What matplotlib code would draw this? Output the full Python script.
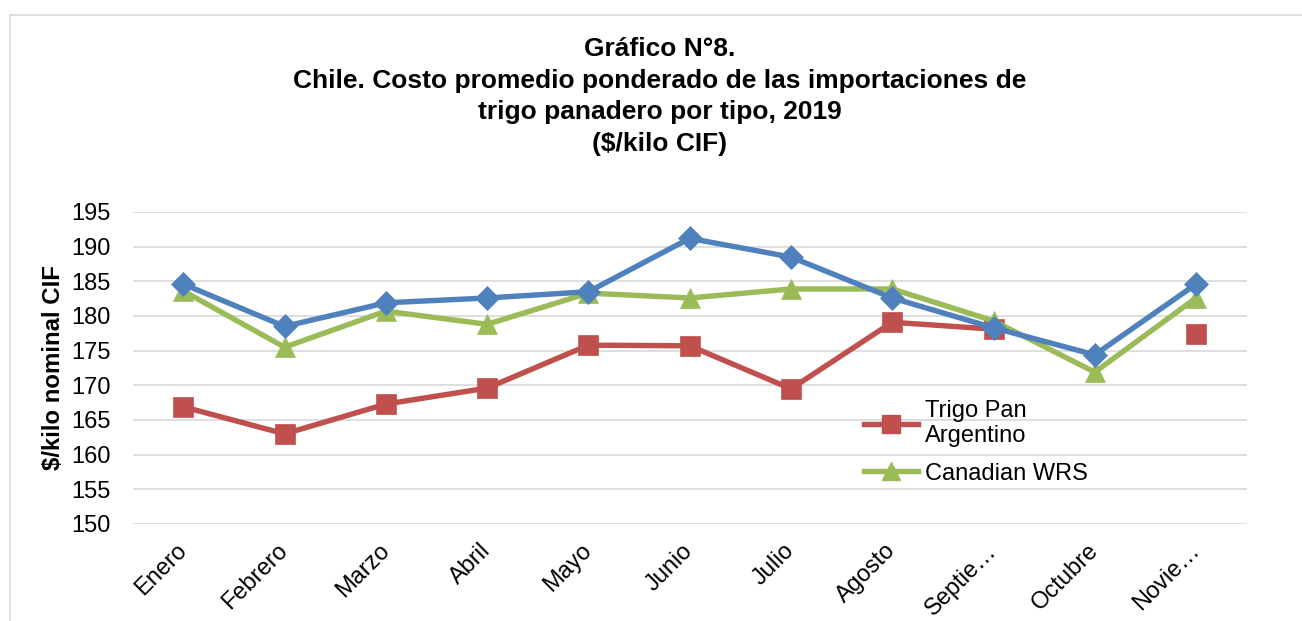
import numpy as np
import matplotlib.pyplot as plt
from matplotlib.lines import Line2D
from matplotlib.patches import Rectangle

plt.rcParams['font.family'] = ['Liberation Sans', 'DejaVu Sans']

# Data
meses = ['Enero', 'Febrero', 'Marzo', 'Abril', 'Mayo', 'Junio', 'Julio',
         'Agosto', 'Septie…', 'Octubre', 'Novie…']
serie_azul = [184.6, 178.5, 181.9, 182.6, 183.5, 191.2, 188.5, 182.6, 178.3, 174.4, 184.6]
trigo_pan_argentino = [166.9, 163.0, 167.3, 169.6, 175.8, 175.7, 169.5, 179.1, 178.1, np.nan, 177.4]
canadian_wrs = [183.6, 175.5, 180.7, 178.8, 183.3, 182.6, 183.9, 183.9, 179.3, 171.9, 182.6]
y_ticks = [150, 155, 160, 165, 170, 175, 180, 185, 190, 195]

azul = '#4F81BD'
rojo = '#C0504D'
verde = '#9BBB59'

W, H = 1302, 621
fig = plt.figure(figsize=(W / 100, H / 100), dpi=100)
ax = fig.add_axes([132.7 / W, 1 - 524 / H, (1246.7 - 132.7) / W, (524 - 212) / H])

# chart area border (cropped on right and bottom)
fig.patches.append(Rectangle((10 / W, -0.1), 1.2, 1.1 - 15 / H,
                             transform=fig.transFigure, fill=False,
                             edgecolor='#D9D9D9', lw=1.2))

x = np.arange(len(meses))
ax.plot(x, serie_azul, color=azul, lw=3.9, marker='D', ms=12, mew=0.5, zorder=3)
ax.plot(x, trigo_pan_argentino, color=rojo, lw=3.9, marker='s', ms=14, mew=0.5, zorder=2)
ax.plot(x, canadian_wrs, color=verde, lw=3.9, marker='^', ms=14, mew=0.5, zorder=2.5)

ax.set_xlim(-0.5, len(meses) - 0.5)
ax.set_ylim(150, 195)
ax.set_yticks(y_ticks)
ax.grid(axis='y', color='#D9D9D9', lw=1.2)
ax.set_axisbelow(True)
for s in ax.spines.values():
    s.set_visible(False)
ax.tick_params(axis='both', length=0, labelsize=17)
ax.tick_params(axis='y', pad=16)
ax.tick_params(axis='x', pad=17)
ax.set_xticks(x)
ax.set_xticklabels(meses, rotation=45, ha='right', va='center', rotation_mode='anchor')

ax.set_ylabel('$/kilo nominal CIF', fontsize=17.3, fontweight='bold')
ax.yaxis.set_label_coords(-0.061, 0.5)

titulo = ['Gráfico N°8.',
          'Chile. Costo promedio ponderado de las importaciones de',
          'trigo panadero por tipo, 2019',
          '($/kilo CIF)']
for i, linea in enumerate(titulo):
    fig.text(660 / W, 1 - (56 + 31.7 * i) / H, linea, ha='center', va='baseline',
             fontsize=19, fontweight='bold')

handles = [Line2D([], [], color=rojo, lw=3.9, marker='s', ms=13),
           Line2D([], [], color=verde, lw=3.9, marker='^', ms=13)]
ax.legend(handles, ['Trigo Pan\nArgentino', 'Canadian WRS'], frameon=False,
          fontsize=17, loc='upper left', bbox_to_anchor=(864 / W, 1 - 400 / H),
          bbox_transform=fig.transFigure, handlelength=2.3, handletextpad=0.3,
          labelspacing=0.65, borderpad=0, borderaxespad=0)

fig.savefig('out.png', dpi=100)
